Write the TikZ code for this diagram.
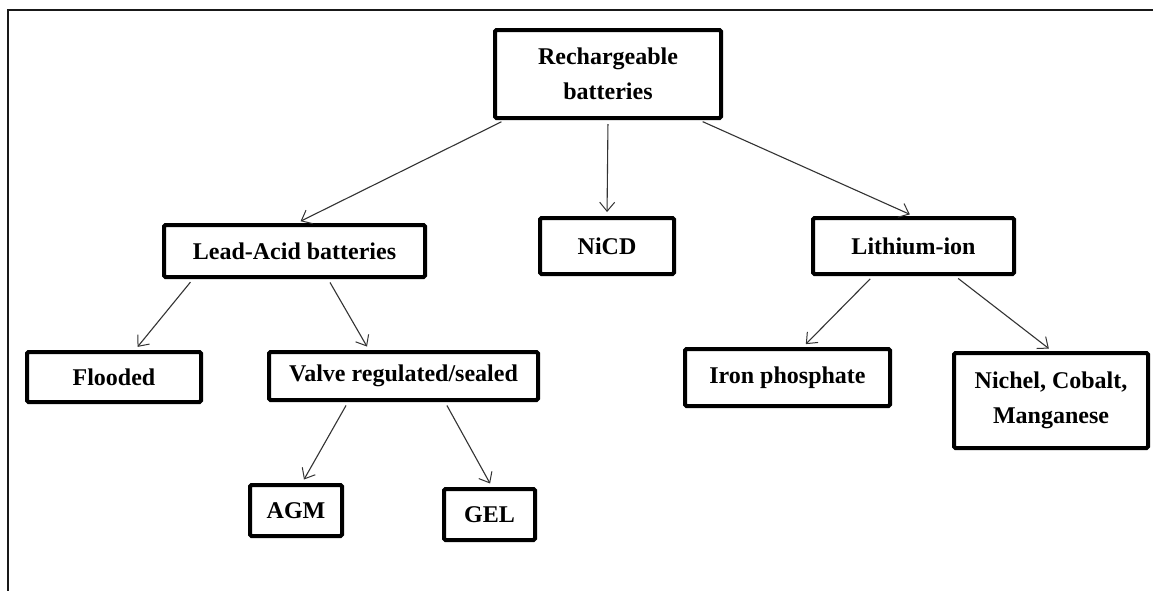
\documentclass[tikz,border=0pt]{standalone}
\usepackage{fontspec}
\setmainfont{Liberation Serif}
\usetikzlibrary{arrows.meta,calc}
\tikzset{
  box/.style={draw=black, line width=4pt, rounded corners=1.5pt, fill=white,
    inner sep=0pt, align=center, font=\bfseries\fontsize{24}{35}\selectfont},
  arr/.style={draw=black!80, line width=1.1pt,
    -{Straight Barb[length=9pt,width=15pt,line width=1pt]},
    shorten <=4pt, shorten >=4pt}
}
\begin{document}
\begin{tikzpicture}[x=1pt,y=-1pt]
\useasboundingbox (0,0) rectangle (1153,590);
\fill[white] (0,0) rectangle (1153,590);
\draw[line width=2pt, black!90] (8,592) -- (8,10) -- (1155,10);

\node[box, minimum width=226pt, minimum height=88pt] (rech) at (608,74) {Rechargeable\\batteries};
\node[box, minimum width=261pt, minimum height=52pt] (lead) at (294.5,251) {Lead-Acid batteries};
\node[box, minimum width=134pt, minimum height=56pt] (nicd) at (607,246) {NiCD};
\node[box, minimum width=201pt, minimum height=56pt] (lith) at (913.5,246) {Lithium-ion};
\node[box, minimum width=174pt, minimum height=50pt] (flood) at (114,377) {Flooded};
\node[box, minimum width=269pt, minimum height=48pt] (valve) at (403.5,376) {Valve regulated/sealed};
\node[box, minimum width=205pt, minimum height=57pt] (iron) at (787.5,377.5) {Iron phosphate};
\node[box, minimum width=194pt, minimum height=95pt] (nich) at (1051,400.5) {Nichel, Cobalt,\\Manganese};
\node[box, minimum width=92pt, minimum height=51pt] (agm) at (296,510.5) {AGM};
\node[box, minimum width=91pt, minimum height=51pt] (gel) at (489.5,514.5) {GEL};

\draw[arr] ([xshift=-103pt]rech.south) -- ([xshift=2.5pt]lead.north);
\draw[arr] (rech.south) -- (nicd.north);
\draw[arr] ([xshift=91pt]rech.south) -- (lith.north);
\draw[arr] ([xshift=-101.5pt]lead.south) -- ([xshift=21pt]flood.north);
\draw[arr] ([xshift=33.5pt]lead.south) -- ([xshift=-34.5pt]valve.north);
\draw[arr] ([xshift=-55.5pt]valve.south) -- ([xshift=6pt]agm.north);
\draw[arr] ([xshift=41.5pt]valve.south) -- ([xshift=2.5pt]gel.north);
\draw[arr] ([xshift=-40.5pt]lith.south) -- ([xshift=15.5pt]iron.north);
\draw[arr] ([xshift=41.5pt]lith.south) -- ([xshift=1pt]nich.north);
\end{tikzpicture}
\end{document}
